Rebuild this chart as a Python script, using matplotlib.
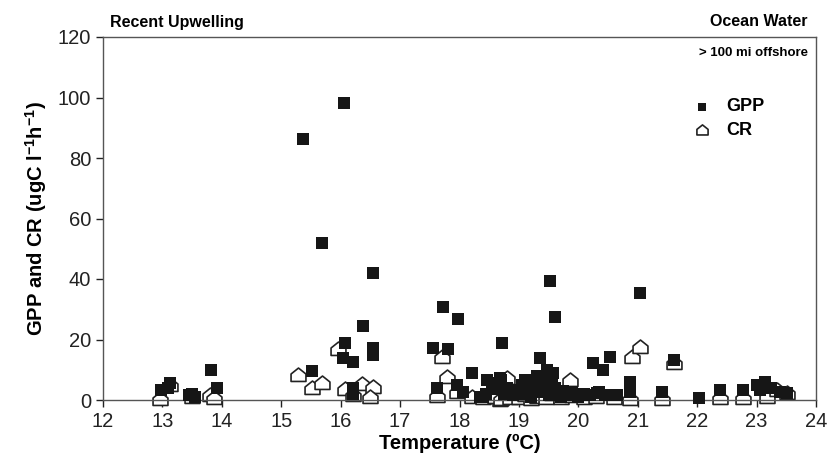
import numpy as np
import matplotlib
matplotlib.use('Agg')
import matplotlib.pyplot as plt
from matplotlib.path import Path

plt.rcParams['font.family'] = ['Liberation Sans', 'DejaVu Sans']
plt.rcParams['mathtext.fontset'] = 'custom'
plt.rcParams['mathtext.rm'] = 'Liberation Sans'
plt.rcParams['mathtext.bf'] = 'Liberation Sans:bold'

# GPP (filled squares): temperature, value
gpp_t = [12.98, 13.13, 13.10, 13.45, 13.55, 13.50, 13.82, 13.92,
         15.37, 16.06, 15.69, 16.54, 16.38, 16.07, 16.54, 16.54, 16.04, 16.20, 15.52, 16.20, 16.20,
         17.72, 17.97, 17.55, 17.80, 18.71, 18.21, 17.62, 17.96, 18.06, 18.46, 18.68, 19.35, 19.15,
         19.47, 18.40, 18.85,
         19.52, 21.04, 19.61, 20.25, 20.53, 20.41, 19.57, 21.61, 20.87, 20.87, 20.65, 21.41, 20.87, 20.31,
         22.03, 22.38, 22.77, 23.00, 23.14, 23.06, 23.39, 23.51, 23.25,
         18.35, 18.45, 18.55, 18.60, 18.70, 18.75, 18.80, 18.90, 18.95, 19.00, 19.05, 19.10, 19.15,
         19.20, 19.25, 19.30, 19.35, 19.40, 19.45, 19.50, 19.55, 19.60, 19.65, 19.70, 19.75, 19.80,
         19.90, 20.00, 20.10, 20.20, 20.35, 20.45]
gpp_v = [3.3, 5.6, 4.0, 1.5, 1.0, 2.0, 9.9, 4.0,
         86.3, 98.2, 51.9, 42.0, 24.5, 18.8, 17.2, 14.9, 13.9, 12.6, 9.6, 4.0, 2.0,
         30.8, 26.8, 17.1, 16.9, 18.8, 8.9, 4.0, 5.0, 2.6, 6.6, 7.2, 13.9, 6.6,
         9.9, 1.0, 3.3,
         39.3, 35.3, 27.4, 12.2, 14.2, 9.9, 8.9, 13.2, 6.0, 4.0, 1.7, 2.6, 2.6, 2.3,
         0.6, 3.3, 3.3, 5.0, 6.0, 3.3, 2.6, 2.3, 4.0,
         1.0, 2.0, 3.5, 5.5, 6.5, 2.0, 4.0, 1.5, 3.0, 2.0, 5.0, 6.5, 3.5,
         1.0, 4.5, 8.0, 2.5, 6.0, 3.0, 1.5, 7.0, 4.0, 2.0, 1.0, 3.0, 1.5,
         2.5, 1.0, 2.0, 1.5, 2.5, 1.5]

# CR (open house-shaped markers): temperature, value
cr_t = [12.96, 13.13, 13.80, 13.87, 13.50,
        15.28, 15.52, 15.69, 15.96, 16.07, 16.36, 16.54, 16.49, 16.20,
        17.62, 17.70, 17.79, 17.96, 18.21, 18.80, 18.68,
        18.40, 18.60, 18.70, 18.85, 19.00, 19.10, 19.20, 19.30, 19.45, 19.55, 19.70, 19.90, 20.10, 20.30,
        19.86, 20.90, 21.04, 21.61, 20.87, 21.41, 20.60,
        22.38, 22.77, 23.18, 23.35, 23.51]
cr_v = [0.3, 5.0, 1.5, 0.6, 1.0,
        8.3, 3.9, 5.6, 16.8, 3.6, 5.3, 4.3, 1.0, 1.5,
        1.3, 14.2, 7.6, 2.6, 1.0, 7.3, 0.0,
        0.5, 1.0, 0.3, 0.8, 0.5, 1.5, 0.3, 1.0, 0.5, 2.0, 0.8, 1.2, 0.5, 1.0,
        6.6, 14.2, 17.5, 12.2, 0.3, 0.3, 0.5,
        0.6, 0.6, 1.0, 3.3, 2.3]

x_ticks = list(range(12, 25))
y_ticks = [0, 20, 40, 60, 80, 100, 120]

house = Path([(-1, -0.8), (1, -0.8), (1, 0.2), (0, 1), (-1, 0.2), (-1, -0.8)],
             [Path.MOVETO, Path.LINETO, Path.LINETO, Path.LINETO, Path.LINETO, Path.CLOSEPOLY])

fig = plt.figure(figsize=(8.27, 4.66), dpi=100)
ax = fig.add_axes([103/827, 1-400/466, (816-103)/827, (400-37)/466])

ax.scatter(cr_t, cr_v, marker=house, s=115, facecolor='white', edgecolor='#222222',
           linewidth=1.2, zorder=2, label='CR', clip_on=False)
ax.scatter(gpp_t, gpp_v, marker='s', s=68, color='#161616', linewidth=0, zorder=3, label='GPP',
           clip_on=False)

ax.set_xlim(12, 24)
ax.set_ylim(0, 120)
ax.set_xticks(x_ticks)
ax.set_yticks(y_ticks)
ax.tick_params(direction='out', length=5, width=1, labelsize=14.5, colors='#222222')
for s in ax.spines.values():
    s.set_color('#555555')
    s.set_linewidth(1)

ax.set_xlabel('Temperature (ºC)', fontsize=14.5, fontweight='bold', labelpad=2)
ax.set_ylabel(r'GPP and CR (ugC l$^{\mathbf{-1}}$h$^{\mathbf{-1}}$)', fontsize=14.5,
              fontweight='bold', labelpad=6)

fig.text(110/827, 1-22/466, 'Recent Upwelling', fontsize=11.5, fontweight='bold', va='center', ha='left')
fig.text(808/827, 1-22/466, 'Ocean Water', fontsize=11.5, fontweight='bold', va='center', ha='right')
fig.text(808/827, 1-53/466, '> 100 mi offshore', fontsize=9.5, fontweight='bold', va='center', ha='right')

h, l = ax.get_legend_handles_labels()
ax.legend(h[::-1], l[::-1], loc='upper left', bbox_to_anchor=(668/827, 1-82/466),
          bbox_transform=fig.transFigure, frameon=False, prop={'weight': 'bold', 'size': 13},
          handletextpad=0.3, labelspacing=0.35, markerscale=0.75, scatterpoints=1)

fig.savefig('out.png', dpi=100)
